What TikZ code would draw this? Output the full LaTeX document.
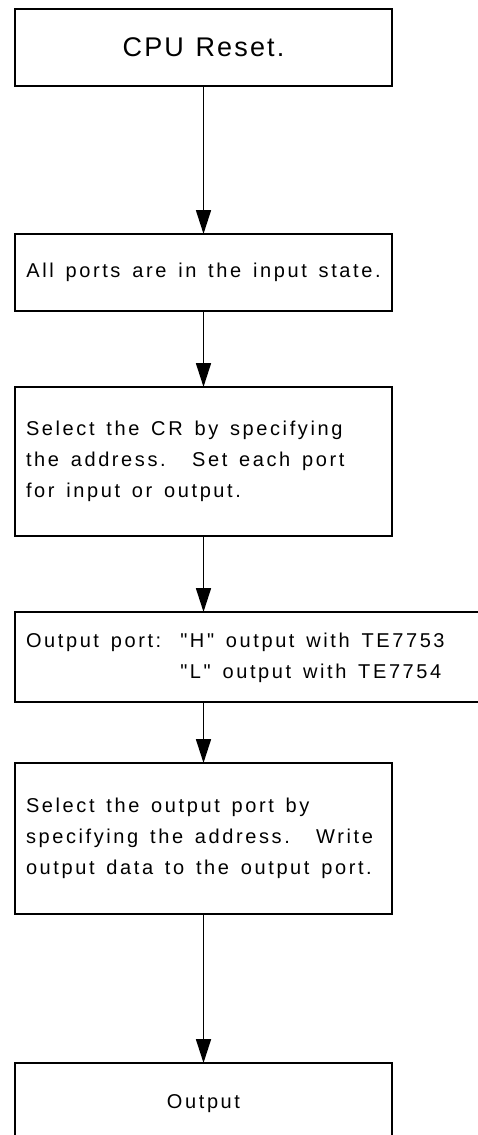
\documentclass[tikz,border=0pt]{standalone}
\usepackage{fontspec}
\newfontfamily\helv{Liberation Sans}[LetterSpace=13,WordSpace=1.45]
\newfontfamily\helvbig{Liberation Sans}[LetterSpace=8,WordSpace=1.2]
\usetikzlibrary{arrows.meta}
\newcommand\wsfix{\spaceskip=0pt\xspaceskip=0pt\relax}
\begin{document}
\begin{tikzpicture}[x=1pt,y=-1pt,
  box/.style={draw=black,line width=1.7pt,inner sep=0pt,outer sep=0pt},
  txt/.style={font=\helv\fontsize{20}{31}\selectfont},
  flow/.style={line width=1.7pt,-{Triangle[length=24pt,width=15pt]}}]
\clip (0,0) rectangle (478,1135);
\useasboundingbox (0,0) rectangle (478,1135);
\node[box,minimum width=377pt,minimum height=77pt,font=\helvbig\fontsize{27}{32}\selectfont] (b1) at (203.5,47.5) {CPU Reset.};
\node[box,minimum width=377pt,minimum height=77pt,txt] (b2) at (203.5,272.5) {All ports are in the input state.};
\node[box,minimum width=377pt,minimum height=149pt,txt,text width=355pt,align=left,inner xsep=11pt] (b3) at (203.5,461.5)
  {\wsfix Select the CR by specifying\\the address.~ Set each port\\for input or output.};
\node[box,minimum width=505pt,minimum height=90pt,txt,text width=483pt,align=left,inner xsep=11pt] (b4) at (267.5,657)
  {\wsfix\begin{tabular}{@{}l@{\hspace{19pt}}l@{}}Output port: & "H" output with TE7753\\ & "L" output with TE7754\end{tabular}};
\node[box,minimum width=377pt,minimum height=151pt,txt,text width=355pt,align=left,inner xsep=11pt] (b5) at (203.5,838.5)
  {\wsfix Select the output port by\\specifying the address.~ Write\\output data to the output port.};
\node[box,minimum width=377pt,minimum height=82pt,txt] (b6) at (203.5,1104) {Output};
\draw[flow] (b1.south) -- (b2.north);
\draw[flow] (b2.south) -- (b3.north);
\draw[flow] (b3.south) -- (b3.south |- b4.north);
\draw[flow] (b3.south |- b4.south) -- (b5.north);
\draw[flow] (b5.south) -- (b6.north);
\end{tikzpicture}
\end{document}
